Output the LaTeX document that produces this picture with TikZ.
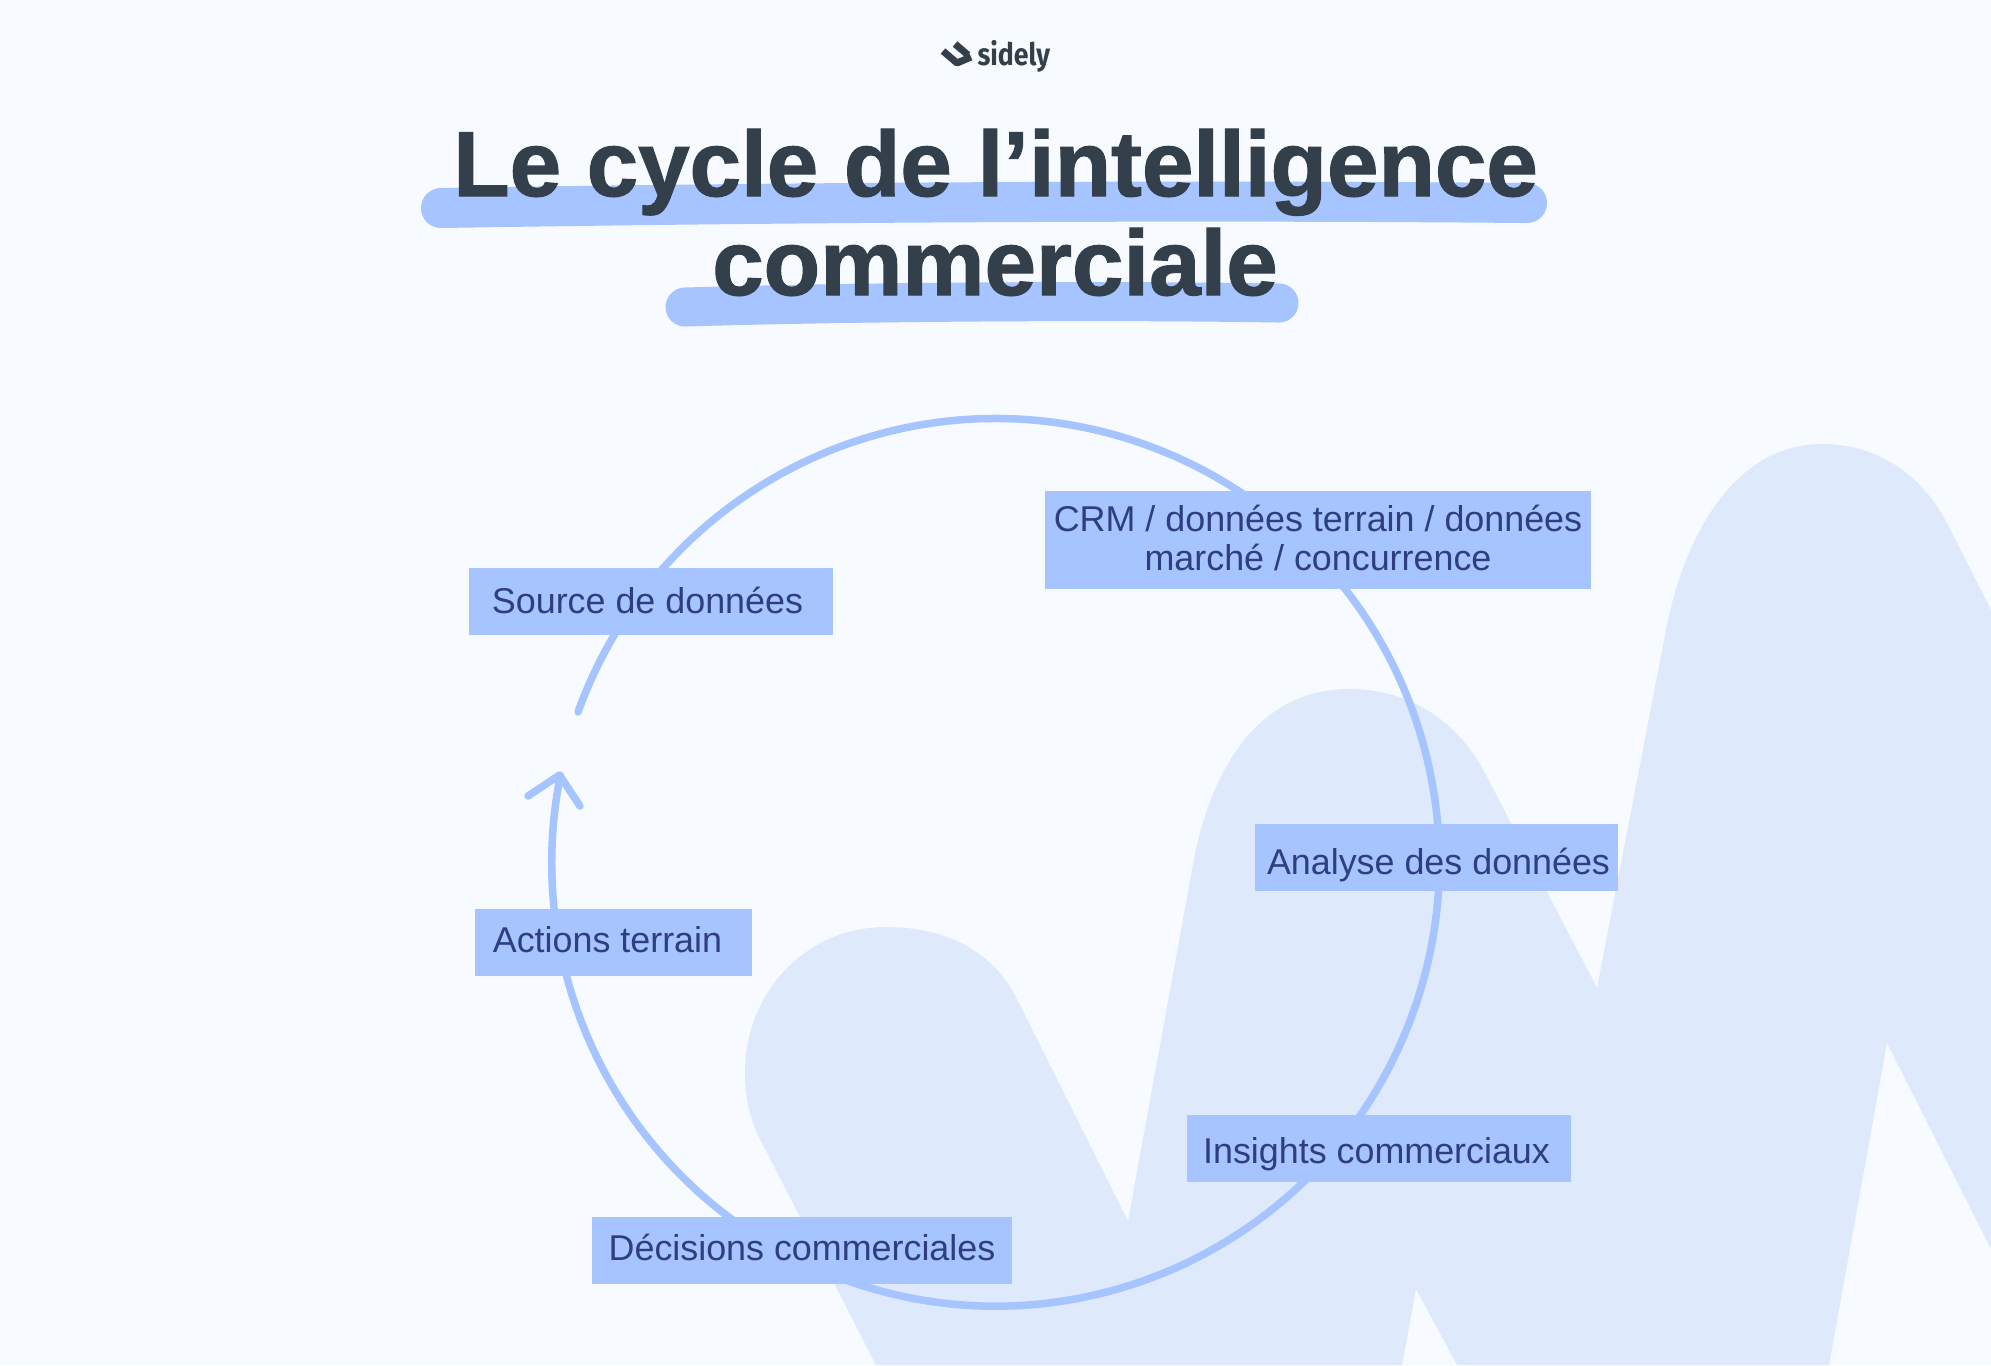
\documentclass[tikz,border=0pt]{standalone}
\usepackage{fontspec}
\setmainfont{Liberation Sans}
\newfontfamily\logofont{Fira Sans}
\newfontfamily\titlefont[UprightFont={* Bold},FakeBold=1.3]{Liberation Sans}
\definecolor{pagebg}{HTML}{F7FBFF}
\definecolor{wavebg}{HTML}{DEE9FC}
\definecolor{accent}{HTML}{A6C4FF}
\definecolor{titleink}{HTML}{333F4B}
\definecolor{labelink}{HTML}{2E3F7C}
\tikzset{
    labelbox/.style 2 args={fill=accent,text=labelink,inner xsep=0pt,inner ysep=0pt,
        font=\fontsize{10.2}{11.1}\selectfont,align=center,
        minimum width=#1cm,text depth=#2cm,text height=.67cm-#2cm},
    titletext/.style={text=titleink,inner sep=0pt,anchor=base,font=\fontsize{26.3}{30}\titlefont},
    ring/.style={draw=accent,line width=.075cm,line cap=round,line join=round},
    stroke/.style={draw=accent,line cap=round}
}
\begin{document}
\begin{tikzpicture}[x=.01cm,y=-.01cm]
\useasboundingbox (0,0) rectangle (1991,1365);
\fill[pagebg] (0,0) rectangle (1991,1365);
% background wave
\fill[wavebg] (876,1365) -- (762,1143) .. controls (750,1120) and (745,1100) .. (745,1073)
    .. controls (745,990) and (808,927) .. (886,927) .. controls (940,927) and (990,947) .. (1016,997)
    -- (1128,1221) -- (1192,870) .. controls (1208,775) and (1255,689) .. (1349,689)
    .. controls (1410,689) and (1458,721) .. (1486,775) -- (1597,988) -- (1666,630)
    .. controls (1682,545) and (1730,444) .. (1822,444) .. controls (1880,444) and (1924,477) .. (1949,527)
    -- (1991,610) -- (1991,1249) -- (1887,1043) -- (1829,1365) -- (1457,1365) -- (1416,1289) -- (1402,1365) -- cycle;
% logo
\coordinate (marktop) at (955,44);
\coordinate (markmid) at (968,55);
\coordinate (marklow) at (943,51);
\coordinate (markbot) at (957,63);
\coordinate (markend) at (971,57);
\draw[titleink,line width=.07cm,line join=round] (marktop) -- (markmid);
\draw[titleink,line width=.07cm,line join=round] (marklow) -- (markbot) -- (markend);
\node[text=titleink,inner sep=0pt,anchor=base west,xscale=.86,font=\fontsize{8.8}{10}\logofont\bfseries] (logo) at (977,65) {sidely};
% title
\draw[stroke,line width=.4cm] (441,208) .. controls (800,202) and (1200,200) .. (1527,203);
\draw[stroke,line width=.39cm] (685,307) .. controls (850,302) and (1100,300) .. (1279,303);
\node[titletext] (line one) at (995.5,196) {Le cycle de l’intelligence};
\node[titletext] (line two) at (995,295) {commerciale};
% cycle
\coordinate (ring start) at (578,712);
\coordinate (ring end) at (559.5,775);
\coordinate (head left) at (528,796);
\coordinate (head right) at (580,806);
\draw[ring] (ring start) arc[start angle=160.2,end angle=-191.3,radius=4.435cm];
\draw[ring] (head left) -- (ring end) -- (head right);
% steps
\node[labelbox={3.64}{.22}] (source) at (651,601.5) {\hspace*{-.07cm}Source de données};
\node[labelbox={5.46}{.19},text height=.79cm] (crm) at (1318,540) {CRM / données terrain / données\\marché / concurrence};
\node[labelbox={3.635}{.16}] (analyse) at (1436.5,857) {\hspace*{.04cm}Analyse des données};
\node[labelbox={3.84}{.19}] (insights) at (1379,1148.5) {\hspace*{-.05cm}Insights commerciaux};
\node[labelbox={4.2}{.235}] (decisions) at (802,1250.5) {Décisions commerciales};
\node[labelbox={2.77}{.23}] (actions) at (613.5,942) {\hspace*{-.12cm}Actions terrain};
\end{tikzpicture}
\end{document}
